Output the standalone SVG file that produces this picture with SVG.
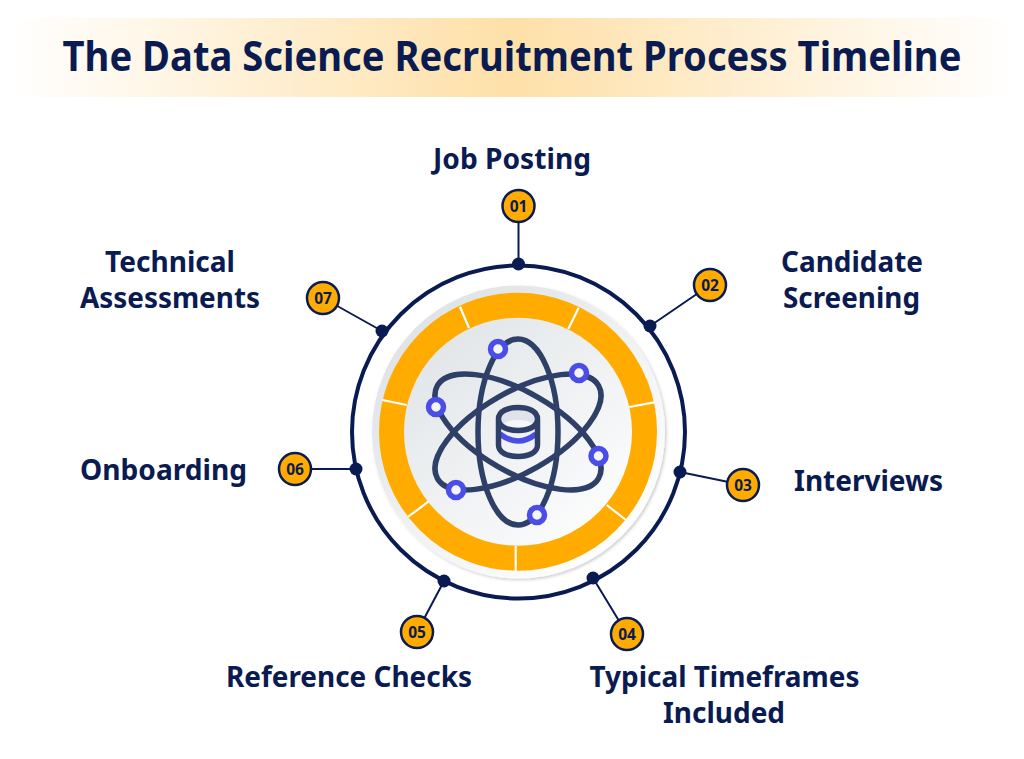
<svg xmlns="http://www.w3.org/2000/svg" width="1024" height="759" viewBox="0 0 1024 759">
<style>
.t{font-family:"Noto Sans","Open Sans",sans-serif;font-weight:700;fill:#0a1b52}
.title{font-size:41.500px;text-anchor:middle}
.lab{font-size:29px;text-anchor:middle}
.num{font-size:15.500px;text-anchor:middle}
.pin{fill:#ffab00;stroke:#0a1b52;stroke-width:2.500}
.dot{fill:#0a1b52}
.con{stroke:#0a1b52;stroke-width:2;fill:none}
.orb{fill:none;stroke:#2f4068;stroke-width:5.500}
.elec{fill:#f4f5f8;stroke:#4a4de6;stroke-width:5.500}
.gap{stroke:#fff;stroke-width:2.200}
</style>
<defs>
<linearGradient id="band" x1="0" x2="1" y1="0" y2="0">
<stop offset="0" stop-color="#fff"/><stop offset=".5" stop-color="#fee0a8"/><stop offset="1" stop-color="#fff"/>
</linearGradient>
<linearGradient id="disc" x1=".15" y1=".1" x2=".85" y2=".9">
<stop offset="0" stop-color="#dfe3e6"/><stop offset="1" stop-color="#fff"/>
</linearGradient>
<filter id="sh" x="-10%" y="-10%" width="120%" height="120%"><feDropShadow dx="1.500" dy="1.500" stdDeviation="1.500" flood-color="#000" flood-opacity=".2"/></filter>
</defs>
<rect id="title-band" x="10" y="18" width="1004" height="79" fill="url(#band)"/>
<text class="t title" transform="translate(512 71) scale(.92 1)">The Data Science Recruitment Process Timeline</text>

<g id="hub">
<circle cx="518.500" cy="432" r="166.500" fill="none" stroke="#0a1b52" stroke-width="4"/>
<circle cx="518.500" cy="432" r="146.500" fill="url(#disc)" filter="url(#sh)"/>
<circle cx="518" cy="431.700" r="126.500" fill="none" stroke="#ffab00" stroke-width="25"/>
<path class="gap" d="M460 306.700L469 328M578.700 307.700L568.300 329M654 402.300L629.300 407M626 520L606.700 505M515.700 546V571M408.300 516.700L428.300 501.700M382.300 400L406.700 405"/>
<g id="atom">
<ellipse class="orb" cx="518" cy="432" rx="40" ry="93"/>
<ellipse class="orb" cx="518" cy="432" rx="40" ry="93" transform="rotate(60 518 432)"/>
<ellipse class="orb" cx="518" cy="432" rx="40" ry="93" transform="rotate(-60 518 432)"/>
<circle class="elec" cx="498" cy="349" r="7.500"/>
<circle class="elec" cx="579" cy="373" r="7.500"/>
<circle class="elec" cx="436" cy="407" r="7.500"/>
<circle class="elec" cx="598.500" cy="456" r="7.500"/>
<circle class="elec" cx="456" cy="490" r="7.500"/>
<circle class="elec" cx="537" cy="515" r="7.500"/>
<ellipse cx="518" cy="419" rx="19" ry="11" fill="#e0e3ec"/>
<ellipse cx="518" cy="424" rx="14" ry="4" fill="#f6f7f9"/>
<path d="M500 434Q518 448 536 434" fill="none" stroke="#4a4de6" stroke-width="5.500"/>
<path class="orb" d="M498.500 419C498.500 411 508 407.500 518 407.500S537.500 411 537.500 419V445C537.500 453 528 456.500 518 456.500S498.500 453 498.500 445ZM498.500 419C498.500 427 508 430.500 518 430.500S537.500 427 537.500 419"/>
</g>
</g>

<g id="connectors">
<path class="con" d="M518.500 222V264M710 285L650 326M743 485L680 472M627 634L593 578M417 632L444 581M295 469H356M323 298L382 331"/>
<circle class="dot" cx="518.500" cy="264" r="6.500"/><circle class="dot" cx="650" cy="326" r="6.500"/><circle class="dot" cx="680" cy="472" r="6.500"/><circle class="dot" cx="593" cy="578" r="6.500"/><circle class="dot" cx="444" cy="581" r="6.500"/><circle class="dot" cx="356" cy="469" r="6.500"/><circle class="dot" cx="382" cy="331" r="6.500"/>
</g>

<g id="node-01"><circle class="pin" cx="518.500" cy="206" r="16"/><text class="t num" x="518.500" y="212">01</text><text class="t lab" x="512" y="169" textLength="158" lengthAdjust="spacingAndGlyphs">Job Posting</text></g>
<g id="node-02"><circle class="pin" cx="710" cy="285" r="16"/><text class="t num" x="710" y="291">02</text><text class="t lab" x="852" y="272" textLength="142" lengthAdjust="spacingAndGlyphs">Candidate</text><text class="t lab" x="851.500" y="308" textLength="137" lengthAdjust="spacingAndGlyphs">Screening</text></g>
<g id="node-03"><circle class="pin" cx="743" cy="485" r="16"/><text class="t num" x="743" y="491">03</text><text class="t lab" x="868.500" y="491" textLength="149" lengthAdjust="spacingAndGlyphs">Interviews</text></g>
<g id="node-04"><circle class="pin" cx="627" cy="634" r="16"/><text class="t num" x="627" y="640">04</text><text class="t lab" x="724.500" y="687" textLength="270" lengthAdjust="spacingAndGlyphs">Typical Timeframes</text><text class="t lab" x="724" y="723" textLength="122" lengthAdjust="spacingAndGlyphs">Included</text></g>
<g id="node-05"><circle class="pin" cx="417" cy="632" r="16"/><text class="t num" x="417" y="638">05</text><text class="t lab" x="349" y="687" textLength="246" lengthAdjust="spacingAndGlyphs">Reference Checks</text></g>
<g id="node-06"><circle class="pin" cx="295" cy="469" r="16"/><text class="t num" x="295" y="475">06</text><text class="t lab" x="163.500" y="480" textLength="167" lengthAdjust="spacingAndGlyphs">Onboarding</text></g>
<g id="node-07"><circle class="pin" cx="323" cy="298" r="16"/><text class="t num" x="323" y="304">07</text><text class="t lab" x="170" y="272" textLength="130" lengthAdjust="spacingAndGlyphs">Technical</text><text class="t lab" x="170" y="308" textLength="180" lengthAdjust="spacingAndGlyphs">Assessments</text></g>
</svg>
